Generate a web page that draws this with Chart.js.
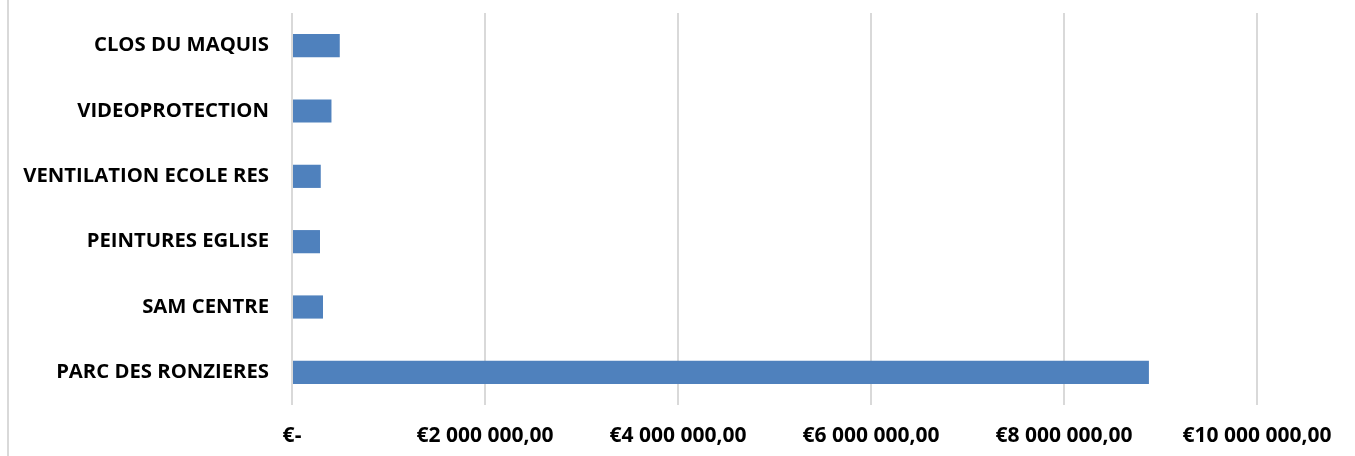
<!DOCTYPE html>
<html>
<head>
<meta charset="utf-8">
<script src="https://cdn.jsdelivr.net/npm/chart.js@4/dist/chart.umd.min.js"></script>
<style>
  html, body { margin: 0; padding: 0; background: #fff; }
  #wrap { position: relative; width: 1355px; height: 456px; }
  #edge { position: absolute; left: 7px; top: 0; width: 2px; height: 456px; background: #d9d9d9; }
</style>
</head>
<body>
<div id="wrap">
  <div id="edge"></div>
  <canvas id="chart" width="1355" height="456"></canvas>
</div>
<script>
var projets = ['CLOS DU MAQUIS', 'VIDEOPROTECTION', 'VENTILATION ECOLE RES', 'PEINTURES EGLISE', 'SAM CENTRE', 'PARC DES RONZIERES'];
var montants = [495000, 409000, 298000, 290000, 321000, 8880000];
var graduations = [0, 2000000, 4000000, 6000000, 8000000, 10000000];

function euro(v) {
  if (v === 0) return '€-';
  var s = Math.round(v).toString().replace(/\B(?=(\d{3})+(?!\d))/g, ' ');
  return '€' + s + ',00';
}

var ctx = document.getElementById('chart');
var myChart = new Chart(ctx, {
  type: 'bar',
  data: {
    labels: projets,
    datasets: [{
      label: 'Montant',
      data: montants,
      backgroundColor: '#4f81bd',
      borderWidth: 0,
      barPercentage: 0.355,
      categoryPercentage: 1
    }]
  },
  options: {
    indexAxis: 'y',
    responsive: false,
    animation: false,
    layout: { padding: { top: 13, right: 98, bottom: 0, left: 0 } },
    plugins: { legend: { display: false }, tooltip: { enabled: false } },
    scales: {
      x: {
        min: 0,
        max: 10000000,
        afterBuildTicks: function(scale) {
          scale.ticks = graduations.map(function(v) { return { value: v }; });
        },
        afterFit: function(scale) {
          scale.height = 51;
          scale.paddingLeft = 0;
          scale.paddingRight = 0;
        },
        grid: { color: '#d9d9d9', lineWidth: 2, drawTicks: false },
        border: { display: false },
        ticks: {
          padding: 18,
          maxRotation: 0,
          autoSkip: false,
          color: '#000',
          font: { family: 'Open Sans', size: 21, weight: 'bold' },
          callback: function(v) { return euro(v); }
        }
      },
      y: {
        afterFit: function(scale) {
          scale.width = 292;
          scale.paddingTop = 0;
          scale.paddingBottom = 0;
        },
        grid: { display: false, drawTicks: false },
        border: { display: false },
        ticks: {
          padding: 23,
          color: '#000',
          font: { family: 'Open Sans', size: 20.3, weight: 'bold' }
        }
      }
    }
  }
});
</script>
</body>
</html>
